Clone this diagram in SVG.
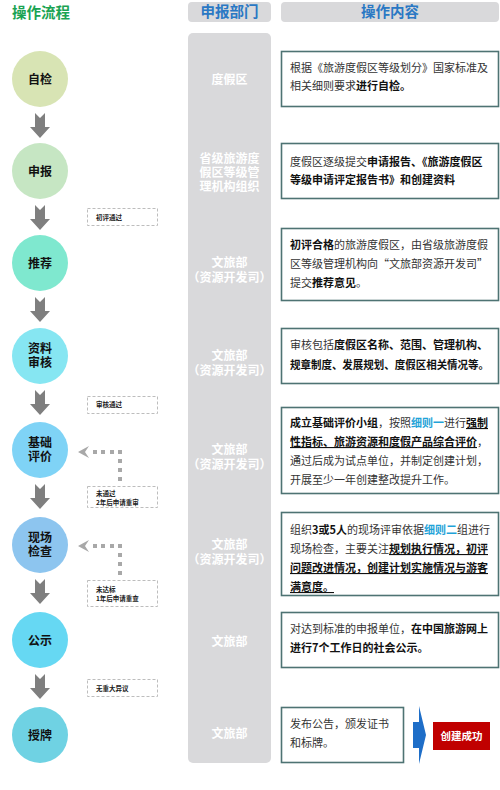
<svg xmlns="http://www.w3.org/2000/svg" width="500" height="790" viewBox="0 0 500 790">
<defs>
<style>
text{font-family:"Noto Sans CJK SC","Noto Sans",sans-serif;}
.title{font-size:14.5px;font-weight:bold;fill:#1aa352;}
.hdr{font-size:14.5px;font-weight:bold;fill:#2a78c4;text-anchor:middle;}
.hbox{fill:#d9d9db;}
.col{fill:#d9d9db;}
.dept{font-size:12px;font-weight:bold;fill:#ffffff;text-anchor:middle;}
.step{font-size:12px;font-weight:bold;fill:#111;text-anchor:middle;}
.box{fill:#fff;stroke:#4e7373;stroke-width:1.6;}
.txt{font-size:11px;fill:#333;}
.b{font-weight:bold;fill:#111;}
.u{text-decoration:underline;}
.lk{font-weight:bold;fill:#1fa3d8;}
.lbl{fill:#fff;stroke:#bdbdbd;stroke-width:1;stroke-dasharray:3 2;}
.lt{font-size:6.5px;font-weight:bold;fill:#222;}
.arr{fill:#7f7f7f;}
.dot{fill:#a8a8a8;}
</style>
<path id="dn" d="M-5,0 L0,5 L5,0 L5,14 L10,14 L0,25 L-10,14 L-5,14 Z"/>
</defs>
<rect width="500" height="790" fill="#fff"/>

<!-- headers -->
<g id="hdr-flow"><text class="title" x="12" y="18">操作流程</text></g>
<g id="hdr-dept"><rect class="hbox" x="188" y="2" width="83" height="20" rx="4"/><text class="hdr" x="229.5" y="17">申报部门</text></g>
<g id="hdr-content"><rect class="hbox" x="281" y="2" width="218" height="20" rx="4"/><text class="hdr" x="390" y="17">操作内容</text></g>

<!-- department column -->
<g id="dept-column">
<rect class="col" x="188" y="33" width="83" height="730" rx="5"/>
<text class="dept" x="229.5" y="84">度假区</text>
<text class="dept" x="229.5" y="163">省级旅游度</text>
<text class="dept" x="229.5" y="177">假区等级管</text>
<text class="dept" x="229.5" y="191">理机构组织</text>
<text class="dept" x="229.5" y="267">文旅部</text>
<text class="dept" x="229.5" y="282">（资源开发司）</text>
<text class="dept" x="229.5" y="360">文旅部</text>
<text class="dept" x="229.5" y="375">（资源开发司）</text>
<text class="dept" x="229.5" y="454">文旅部</text>
<text class="dept" x="229.5" y="469">（资源开发司）</text>
<text class="dept" x="229.5" y="549">文旅部</text>
<text class="dept" x="229.5" y="564">（资源开发司）</text>
<text class="dept" x="229.5" y="646">文旅部</text>
<text class="dept" x="229.5" y="738">文旅部</text>
</g>

<!-- step nodes -->
<g id="n-zijian"><circle cx="40" cy="79" r="28" fill="#d8e4b4"/><text class="step" x="40" y="84">自检</text></g>
<g id="n-shenbao"><circle cx="40" cy="171" r="28" fill="#c6e6c3"/><text class="step" x="40" y="176">申报</text></g>
<g id="n-tuijian"><circle cx="40" cy="263" r="28" fill="#7fe8cf"/><text class="step" x="40" y="268">推荐</text></g>
<g id="n-ziliao"><circle cx="40" cy="356" r="28" fill="#86e6f2"/><text class="step" x="40" y="353">资料</text><text class="step" x="40" y="367">审核</text></g>
<g id="n-jichu"><circle cx="40" cy="450" r="28" fill="#7fd3f6"/><text class="step" x="40" y="447">基础</text><text class="step" x="40" y="461">评价</text></g>
<g id="n-xianchang"><circle cx="40" cy="545" r="28" fill="#8dc5ef"/><text class="step" x="40" y="542">现场</text><text class="step" x="40" y="556">检查</text></g>
<g id="n-gongshi"><circle cx="40" cy="640" r="28" fill="#66d8f3"/><text class="step" x="40" y="645">公示</text></g>
<g id="n-shoupai"><circle cx="40" cy="735" r="28" fill="#6fd2e3"/><text class="step" x="40" y="740">授牌</text></g>

<!-- connectors -->
<g id="connectors">
<use href="#dn" class="arr" x="40" y="113"/>
<use href="#dn" class="arr" x="40" y="205"/>
<use href="#dn" class="arr" x="40" y="297"/>
<use href="#dn" class="arr" x="40" y="390"/>
<use href="#dn" class="arr" x="40" y="484"/>
<use href="#dn" class="arr" x="40" y="579"/>
<use href="#dn" class="arr" x="40" y="674"/>
<!-- dotted feedback 基础评价 -->
<g class="dot">
<path d="M78,452 L89,446 L85,452 L89,458 Z"/>
<rect x="93" y="450" width="4" height="4"/><rect x="101" y="450" width="4" height="4"/><rect x="110" y="450" width="4" height="4"/><rect x="118" y="450" width="4" height="4"/>
<rect x="118" y="459" width="4" height="4"/><rect x="118" y="468" width="4" height="4"/><rect x="118" y="477" width="4" height="4"/>
</g>
<!-- dotted feedback 现场检查 -->
<g class="dot">
<path d="M78,546 L89,540 L85,546 L89,552 Z"/>
<rect x="93" y="544" width="4" height="4"/><rect x="101" y="544" width="4" height="4"/><rect x="110" y="544" width="4" height="4"/><rect x="118" y="544" width="4" height="4"/>
<rect x="118" y="553" width="4" height="4"/><rect x="118" y="562" width="4" height="4"/><rect x="118" y="571" width="4" height="4"/>
</g>
<!-- blue arrow -->
<path d="M413,722 L419,722 L419,706 L426,735 L419,764 L419,748 L413,748 Z" fill="#1e6ec8"/>
</g>

<!-- condition labels -->
<g id="l-chuping"><rect class="lbl" x="87.5" y="208.5" width="70" height="17"/><text class="lt" x="96" y="219.5">初评通过</text></g>
<g id="l-shenhe"><rect class="lbl" x="87.5" y="396.5" width="70" height="17"/><text class="lt" x="96" y="407">审核通过</text></g>
<g id="l-weitongguo"><rect class="lbl" x="87.5" y="486.5" width="70" height="21"/><text class="lt" x="96" y="496">未通过</text><text class="lt" x="96" y="504.5">2年后申请重审</text></g>
<g id="l-weidabiao"><rect class="lbl" x="87.5" y="580.5" width="70" height="26"/><text class="lt" x="96" y="592">未达标</text><text class="lt" x="96" y="600.5">1年后申请重查</text></g>
<g id="l-wuyiyi"><rect class="lbl" x="87.5" y="679.5" width="70" height="17"/><text class="lt" x="96" y="690.5">无重大异议</text></g>

<!-- content boxes -->
<g id="c-zijian"><rect class="box" x="281.5" y="51.5" width="217" height="55"/>
<text class="txt" x="290" y="72">根据《旅游度假区等级划分》国家标准及</text>
<text class="txt" x="290" y="90">相关细则要求<tspan class="b">进行自检。</tspan></text></g>

<g id="c-shenbao"><rect class="box" x="281.5" y="143.5" width="217" height="55"/>
<text class="txt" x="290" y="166">度假区逐级提交<tspan class="b">申请报告、《旅游度假区</tspan></text>
<text class="txt" x="290" y="184"><tspan class="b">等级申请评定报告书》和创建资料</tspan></text></g>

<g id="c-tuijian"><rect class="box" x="281.5" y="228.5" width="217" height="72"/>
<text class="txt" x="290" y="249"><tspan class="b">初评合格</tspan>的旅游度假区，由省级旅游度假</text>
<text class="txt" x="290" y="268">区等级管理机构向“文旅部资源开发司”</text>
<text class="txt" x="290" y="287">提交<tspan class="b">推荐意见</tspan>。</text></g>

<g id="c-ziliao"><rect class="box" x="281.5" y="328.5" width="217" height="55"/>
<text class="txt" x="290" y="349">审核包括<tspan class="b">度假区名称、范围、管理机构、</tspan></text>
<text class="txt b" x="290" y="369" textLength="199" lengthAdjust="spacingAndGlyphs">规章制度、发展规划、度假区相关情况等。</text></g>

<g id="c-jichu"><rect class="box" x="281.5" y="407.5" width="217" height="86"/>
<text class="txt" x="290" y="427"><tspan class="b">成立基础评价小组</tspan>，按照<tspan class="lk">细则一</tspan>进行<tspan class="b u">强制</tspan></text>
<text class="txt" x="290" y="446"><tspan class="b u">性指标、旅游资源和度假产品综合评价</tspan>，</text>
<text class="txt" x="290" y="465">通过后成为试点单位，并制定创建计划，</text>
<text class="txt" x="290" y="484">开展至少一年创建整改提升工作。</text></g>

<g id="c-xianchang"><rect class="box" x="281.5" y="512.5" width="217" height="83"/>
<text class="txt" x="290" y="534">组织<tspan class="b">3或5人</tspan>的现场评审依据<tspan class="lk">细则二</tspan>组进行</text>
<text class="txt" x="290" y="553">现场检查，主要关注<tspan class="b u">规划执行情况，初评</tspan></text>
<text class="txt" x="290" y="572"><tspan class="b u">问题改进情况，创建计划实施情况与游客</tspan></text>
<text class="txt" x="290" y="591"><tspan class="b u">满意度。</tspan></text></g>

<g id="c-gongshi"><rect class="box" x="281.5" y="612.5" width="217" height="55"/>
<text class="txt" x="290" y="633">对达到标准的申报单位，<tspan class="b">在中国旅游网上</tspan></text>
<text class="txt b" x="290" y="652">进行7个工作日的社会公示。</text></g>

<g id="c-shoupai"><rect class="box" x="281.5" y="707.5" width="122" height="55"/>
<text class="txt" x="290" y="728">发布公告，颁发证书</text>
<text class="txt" x="290" y="747">和标牌。</text></g>

<g id="n-success"><rect x="433" y="722" width="57" height="28" fill="#c00000"/><text x="461.5" y="740" font-size="10.5" font-weight="bold" fill="#fff" text-anchor="middle">创建成功</text></g>
</svg>
